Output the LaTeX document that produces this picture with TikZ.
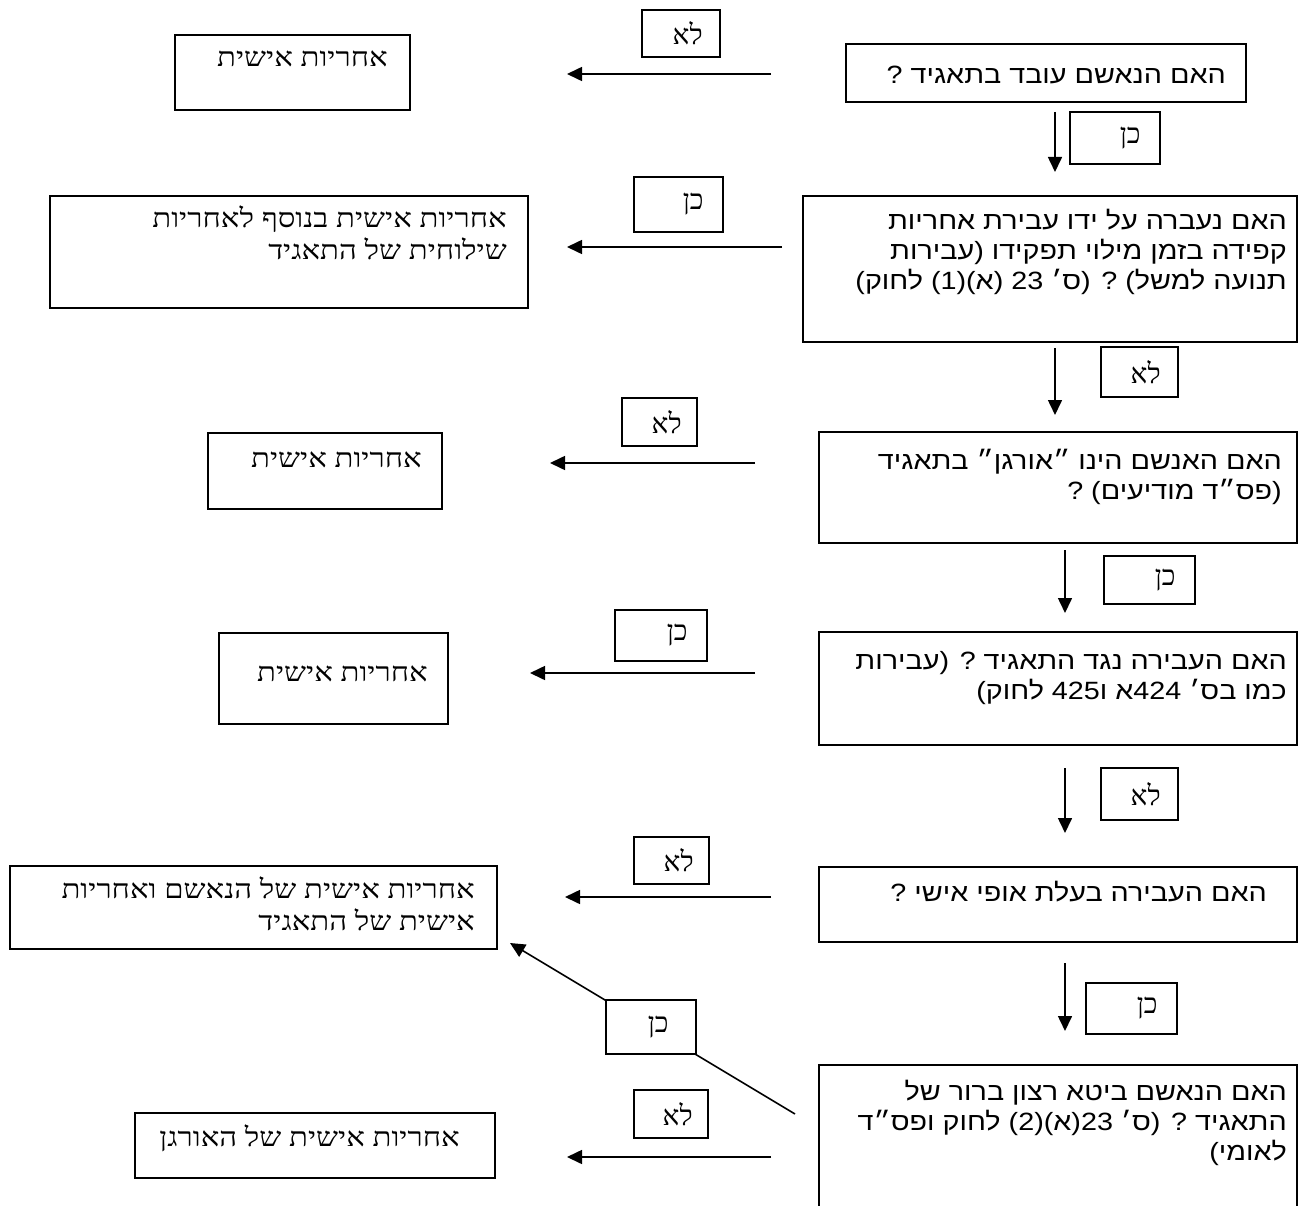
\documentclass[tikz,border=0pt]{standalone}
\usepackage{fontspec}
\setmainfont{Liberation Sans}
\newfontfamily\hebsans[Script=Hebrew,FakeStretch=1.15]{Liberation Sans}
\newfontfamily\hebserif[Script=Hebrew,FakeStretch=1.17]{Liberation Serif}
\newfontfamily\hebserifl[Script=Hebrew]{Liberation Serif}
\TeXXeTstate=1
\usetikzlibrary{arrows.meta}
\tikzset{
  box/.style={draw, line width=1.6pt, inner sep=0pt},
  lbl/.style={draw, line width=1.6pt, fill=white, inner sep=0pt},
  qtext/.style={font=\hebsans\fontsize{25}{30}\selectfont, align=right, inner sep=0pt, anchor=north east},
  atext/.style={font=\hebserif\fontsize{26.5}{30}\selectfont, align=right, inner sep=0pt, anchor=north east},
  ltext/.style={font=\hebserifl\fontsize{28}{30}\selectfont, inner sep=0pt, anchor=east},
  arr/.style={line width=1.6pt, -{Triangle[length=15pt,width=14pt]}},
  ln/.style={line width=1.4pt}
}
\begin{document}
\begin{tikzpicture}[x=1pt,y=-1pt]
\useasboundingbox[fill=white] (0,0) rectangle (1303,1206);

% ---------- question boxes (right column) ----------
\node[box, minimum width=400pt, minimum height=58pt] (r1) at (1046,73) {};
\node[box, minimum width=494pt, minimum height=146pt] (r2) at (1050,269) {};
\node[box, minimum width=478pt, minimum height=111pt] (r3) at (1058,487.5) {};
\node[box, minimum width=478pt, minimum height=113pt] (r4) at (1058,688.5) {};
\node[box, minimum width=478pt, minimum height=75pt] (r5) at (1058,904.5) {};
\node[box, minimum width=478pt, minimum height=180pt] (r6) at (1058,1155) {};

\node[qtext] (r1t) at (1226,62) {\beginR האם הנאשם עובד בתאגיד ?\endR\strut};
\node[qtext] (r2t) at (1287,208) {\beginR האם נעברה על ידו עבירת אחריות\endR\strut\\
  \beginR קפידה בזמן מילוי תפקידו (עבירות\endR\strut\\
  \beginR תנועה למשל) ? (ס׳ 23 (א)(1) לחוק)\endR\strut};
\node[qtext] (r3t) at (1282,448) {\beginR האם האנשם הינו ״אורגן״ בתאגיד\endR\strut\\
  \beginR (פס״ד מודיעים) ?\endR\strut};
\node[qtext] (r4t) at (1287,648) {\beginR האם העבירה נגד התאגיד ? (עבירות\endR\strut\\
  \beginR כמו בס׳ 424א ו425 לחוק)\endR\strut};
\node[qtext] (r5t) at (1267,880) {\beginR האם העבירה בעלת אופי אישי ?\endR\strut};
\node[qtext] (r6t) at (1287,1079) {\beginR האם הנאשם ביטא רצון ברור של\endR\strut\\
  \beginR התאגיד ? (ס׳ 23(א)(2) לחוק ופס״ד\endR\strut\\
  \beginR לאומי)\endR\strut};

% ---------- answer boxes (left column) ----------
\node[box, minimum width=235pt, minimum height=75pt] (l1) at (292.5,72.5) {};
\node[box, minimum width=478pt, minimum height=112pt] (l2) at (289,252) {};
\node[box, minimum width=234pt, minimum height=76pt] (l3) at (325,471) {};
\node[box, minimum width=229pt, minimum height=91pt] (l4) at (333.5,678.5) {};
\node[box, minimum width=487pt, minimum height=83pt] (l5) at (253.5,907.5) {};
\node[box, minimum width=360pt, minimum height=65pt] (l6) at (315,1145.5) {};

\node[atext] (l1t) at (388,45) {\beginR אחריות אישית\endR\strut};
\node[atext] (l2t) at (507,206) {\beginR אחריות אישית בנוסף לאחריות\endR\strut\\
  \beginR שילוחית של התאגיד\endR\strut};
\node[atext] (l3t) at (422,446) {\beginR אחריות אישית\endR\strut};
\node[atext] (l4t) at (428,660) {\beginR אחריות אישית\endR\strut};
\node[atext] (l5t) at (475,877) {\beginR אחריות אישית של הנאשם ואחריות\endR\strut\\
  \beginR אישית של התאגיד\endR\strut};
\node[atext] (l6t) at (460,1125) {\beginR אחריות אישית של האורגן\endR\strut};

% ---------- connector end points ----------
\coordinate (h1s) at (771,74);   \coordinate (h1e) at (567,74);
\coordinate (h2s) at (782,247);  \coordinate (h2e) at (567,247);
\coordinate (h3s) at (755,463);  \coordinate (h3e) at (550,463);
\coordinate (h4s) at (755,673);  \coordinate (h4e) at (530,673);
\coordinate (h5s) at (771,897);  \coordinate (h5e) at (565,897);
\coordinate (h6s) at (771,1157); \coordinate (h6e) at (567,1157);
\coordinate (v1s) at (1055,112); \coordinate (v1e) at (1055,172);
\coordinate (v2s) at (1055,348); \coordinate (v2e) at (1055,415);
\coordinate (v3s) at (1065,550); \coordinate (v3e) at (1065,613);
\coordinate (v4s) at (1065,768); \coordinate (v4e) at (1065,833);
\coordinate (v5s) at (1065,963); \coordinate (v5e) at (1065,1031);
\coordinate (ds) at (795,1114);  \coordinate (de) at (510,943);

\draw[arr] (h1s) -- (h1e);
\draw[arr] (h2s) -- (h2e);
\draw[arr] (h3s) -- (h3e);
\draw[arr] (h4s) -- (h4e);
\draw[arr] (h5s) -- (h5e);
\draw[arr] (h6s) -- (h6e);
\draw[arr] (v1s) -- (v1e);
\draw[arr] (v2s) -- (v2e);
\draw[arr] (v3s) -- (v3e);
\draw[arr] (v4s) -- (v4e);
\draw[arr] (v5s) -- (v5e);
\draw[arr] (ds) -- (de);

% ---------- yes / no labels ----------
\node[lbl, minimum width=78pt, minimum height=47pt] (n1) at (681,33.5) {};
\node[lbl, minimum width=90pt, minimum height=52pt] (y1) at (1115,138) {};
\node[lbl, minimum width=89pt, minimum height=55pt] (y2) at (678.5,204.5) {};
\node[lbl, minimum width=77pt, minimum height=50pt] (n2) at (1139.5,372) {};
\node[lbl, minimum width=75pt, minimum height=48pt] (n3) at (659.5,422) {};
\node[lbl, minimum width=91pt, minimum height=48pt] (y3) at (1149.5,580) {};
\node[lbl, minimum width=92pt, minimum height=51pt] (y4) at (661,635.5) {};
\node[lbl, minimum width=77pt, minimum height=52pt] (n4) at (1139.5,794) {};
\node[lbl, minimum width=75pt, minimum height=47pt] (n5) at (671.5,860.5) {};
\node[lbl, minimum width=91pt, minimum height=51pt] (y5) at (1131.5,1008.5) {};
\node[lbl, minimum width=90pt, minimum height=54pt] (y6) at (651,1027) {};
\node[lbl, minimum width=74pt, minimum height=48pt] (n6) at ( 671,1114) {};

\node[ltext] (n1t) at ([xshift=-18pt]n1.east) {\beginR לא\endR};
\node[ltext] (y1t) at ([xshift=-20pt]y1.east) {\beginR כן\endR};
\node[ltext] (y2t) at ([xshift=-20pt]y2.east) {\beginR כן\endR};
\node[ltext] (n2t) at ([xshift=-18pt]n2.east) {\beginR לא\endR};
\node[ltext] (n3t) at ([xshift=-16pt]n3.east) {\beginR לא\endR};
\node[ltext] (y3t) at ([xshift=-20pt]y3.east) {\beginR כן\endR};
\node[ltext] (y4t) at ([xshift=-20pt]y4.east) {\beginR כן\endR};
\node[ltext] (n4t) at ([xshift=-18pt]n4.east) {\beginR לא\endR};
\node[ltext] (n5t) at ([xshift=-16pt]n5.east) {\beginR לא\endR};
\node[ltext] (y5t) at ([xshift=-20pt]y5.east) {\beginR כן\endR};
\node[ltext] (y6t) at ([xshift=-28pt]y6.east) {\beginR כן\endR};
\node[ltext] (n6t) at ([xshift=-16pt]n6.east) {\beginR לא\endR};
\end{tikzpicture}
\end{document}
